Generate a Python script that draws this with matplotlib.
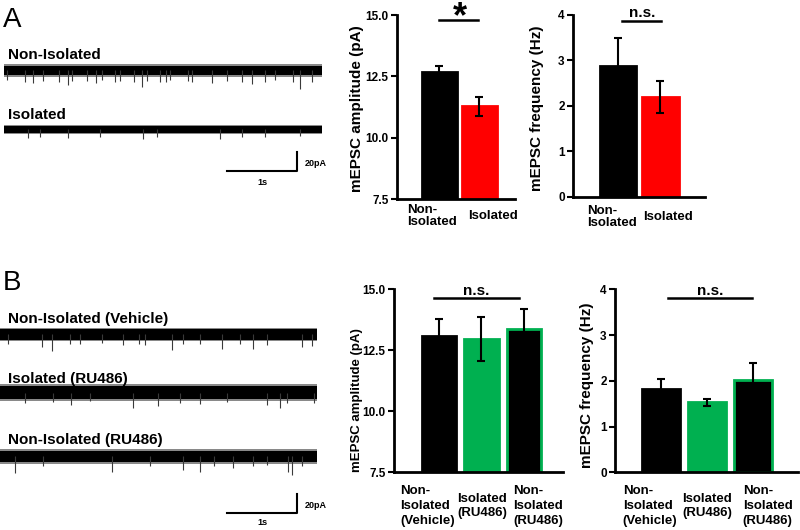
import matplotlib
matplotlib.use("Agg")
import matplotlib.pyplot as plt
import matplotlib.transforms as mtransforms
import numpy as np

plt.rcParams['font.family'] = ['Liberation Sans', 'DejaVu Sans']

# ---------------- data ----------------
# Panel A bar charts
a_cats = ["Non-\nIsolated", "Isolated"]
a_amp = [12.7, 11.28]
a_amp_err = [0.24, 0.38]
a_freq = [2.88, 2.19]
a_freq_err = [0.62, 0.35]
a_colors = ["#000000", "#ff0000"]

# Panel B bar charts
b_cats = ["Non-\nIsolated\n(Vehicle)", "Isolated\n(RU486)", "Non-\nIsolated\n(RU486)"]
b_amp = [13.07, 12.98, 13.39]
b_amp_err = [0.73, 0.90, 0.81]
b_freq = [1.83, 1.53, 2.01]
b_freq_err = [0.21, 0.08, 0.39]
b_colors = ["#000000", "#00b050", "#000000"]
b_edges = ["#000000", "#00b050", "#00b050"]

amp_ticks = [7.5, 10.0, 12.5, 15.0]
amp_ticklabels = ["7.5", "10.0", "12.5", "15.0"]
freq_ticks = [0, 1, 2, 3, 4]

# Example traces: duration (s), noise band (pA), mEPSC events (time s, amplitude pA)
trace_a_names = ["Non-Isolated", "Isolated"]
trace_b_names = ["Non-Isolated (Vehicle)", "Isolated (RU486)", "Non-Isolated (RU486)"]
a_duration = 4.54
b_duration = 4.53
a_noise = [5.0, 3.6]
b_noise = [5.6, 6.6, 6.0]

a1_t = [0.04, 0.30, 0.42, 0.56, 0.78, 0.92, 0.97, 1.18, 1.32, 1.40, 1.59, 1.66, 1.85, 1.97,
        2.04, 2.23, 2.32, 2.37, 2.63, 2.68, 2.97, 3.18, 3.40, 3.54, 3.73, 3.87, 4.13, 4.23, 4.40]
a1_amp = [10, 12, 13.5, 11, 12, 15, 11, 11, 13.5, 10, 12, 11, 12, 17,
          11, 12, 12.5, 10, 11, 12, 13.5, 11, 12, 14.5, 12.5, 10, 12.5, 19, 12]
a2_t = [0.34, 0.51, 0.91, 1.37, 1.99, 2.19, 3.09, 3.40, 3.73, 4.23]
a2_amp = [9, 7.5, 8.5, 7.5, 10, 7.5, 10, 7.5, 7.5, 7]
b1_t = [0.12, 0.60, 0.74, 1.00, 1.14, 1.45, 1.76, 1.98, 2.07, 2.45, 2.62, 2.86, 3.17,
        3.43, 3.62, 3.81, 4.31, 4.45]
b1_amp = [9.5, 13, 17.5, 9.5, 10.5, 8.5, 11.5, 10.5, 11.5, 16.5, 9.5, 10.5, 15,
          10.5, 15.5, 11.5, 13, 12]
b2_t = [0.36, 0.76, 1.02, 1.29, 1.90, 2.26, 2.57, 2.86, 3.24, 3.81, 4.00, 4.10, 4.48]
b2_amp = [11.5, 9.5, 13, 8.5, 16.5, 14, 11.5, 12, 9.5, 13, 16.5, 11.5, 10.5]
b3_t = [0.21, 0.62, 1.60, 2.14, 2.62, 2.86, 3.05, 3.33, 3.62, 3.81, 4.12, 4.17, 4.31]
b3_amp = [17.5, 10.5, 16, 10.5, 14, 16, 10.5, 12.5, 10.5, 9, 16, 19.5, 10.5]

# ---------------- figure ----------------
W, H = 800, 530
fig = plt.figure(figsize=(W / 100, H / 100), dpi=100)


def rect(x0, y0, x1, y1):
    return [x0 / W, 1 - y1 / H, (x1 - x0) / W, (y1 - y0) / H]


def fx(px):
    return px / W


def fy(py):
    return 1 - py / H


def style_bar_ax(ax, ylim, ticks, ticklabels, tsize):
    ax.set_ylim(*ylim)
    for s in ["top", "right"]:
        ax.spines[s].set_visible(False)
    for s in ["left", "bottom"]:
        ax.spines[s].set_linewidth(2)
    ax.set_yticks(ticks)
    ax.set_yticklabels(ticklabels, fontsize=tsize, fontweight="bold")
    ax.tick_params(axis="y", direction="out", length=4, width=1.5, pad=2)
    ax.set_xticks([])


def draw_bars(ax, vals, errs, colors, edges, width, xlim):
    x = np.arange(len(vals))
    ax.bar(x, vals, width=width, color=colors, edgecolor=edges, linewidth=2, zorder=2)
    ax.errorbar(x, vals, yerr=errs, fmt="none", ecolor="black", elinewidth=1.5,
                capsize=3, capthick=1.5, zorder=3)
    ax.set_xlim(*xlim)


def cat_labels(ax, cats, lefts, ypx, size, ls):
    tr = mtransforms.blended_transform_factory(ax.transData, fig.transFigure)
    for c, xl in zip(cats, lefts):
        ax.text(xl, fy(ypx), c, transform=tr, ha="left", va="center", fontsize=size,
                fontweight="bold", multialignment="left", linespacing=ls, clip_on=False)


# Panel A amplitude
ax1 = fig.add_axes(rect(397, 15, 515, 199.3))
draw_bars(ax1, a_amp, a_amp_err, a_colors, a_colors, 0.875, (-1.0625, 1.89))
style_bar_ax(ax1, (7.5, 15), amp_ticks, amp_ticklabels, 8.5)
cat_labels(ax1, a_cats, [-0.81, 0.71], 216, 9.5, 1.0)
ax1.plot([0, 0.96], [14.8, 14.8], color="black", lw=1.8, clip_on=False)
ax1.text(0.5, 14.52, "*", ha="center", va="baseline", fontsize=26, fontweight="bold", clip_on=False)
fig.text(fx(357), fy(109), "mEPSC amplitude (pA)", rotation=90, ha="center", va="center",
         fontsize=11, fontweight="bold")

# Panel A frequency
ax2 = fig.add_axes(rect(573, 15, 705, 196.7))
draw_bars(ax2, a_freq, a_freq_err, a_colors, a_colors, 0.86, (-1.06, 2.05))
style_bar_ax(ax2, (0, 4), freq_ticks, [str(t) for t in freq_ticks], 8.5)
cat_labels(ax2, a_cats, [-0.73, 0.59], 217, 9.5, 1.0)
ax2.plot([0.1, 1.01], [3.87, 3.87], color="black", lw=1.8, clip_on=False)
ax2.text(0.56, 3.956, "n.s.", ha="center", va="baseline", fontsize=11, fontweight="bold", clip_on=False)
fig.text(fx(537), fy(108), "mEPSC frequency (Hz)", rotation=90, ha="center", va="center",
         fontsize=11, fontweight="bold")

# Panel B amplitude
ax3 = fig.add_axes(rect(394, 289.3, 563, 472.3))
draw_bars(ax3, b_amp, b_amp_err, b_colors, b_edges, 0.82, (-1.06, 2.92))
style_bar_ax(ax3, (7.5, 15), amp_ticks, amp_ticklabels, 8.5)
cat_labels(ax3, b_cats, [-0.915, 0.426, 1.743], 506, 9.5, 1.3)
ax3.plot([-0.12, 1.88], [14.63, 14.63], color="black", lw=1.8, clip_on=False)
ax3.text(0.87, 14.77, "n.s.", ha="center", va="baseline", fontsize=11, fontweight="bold", clip_on=False)
fig.text(fx(357), fy(400), "mEPSC amplitude (pA)", rotation=90, ha="center", va="center",
         fontsize=9.5, fontweight="bold")

# Panel B frequency
ax4 = fig.add_axes(rect(615, 289.3, 798, 472.3))
draw_bars(ax4, b_freq, b_freq_err, b_colors, b_edges, 0.82, (-1.0, 2.98))
style_bar_ax(ax4, (0, 4), freq_ticks, [str(t) for t in freq_ticks], 8.5)
cat_labels(ax4, b_cats, [-0.83, 0.47, 1.78], 506, 9.5, 1.3)
ax4.plot([0.15, 1.99], [3.8, 3.8], color="black", lw=1.8, clip_on=False)
ax4.text(1.07, 3.875, "n.s.", ha="center", va="baseline", fontsize=11, fontweight="bold", clip_on=False)
fig.text(fx(587), fy(385), "mEPSC frequency (Hz)", rotation=90, ha="center", va="center",
         fontsize=11, fontweight="bold")


# ---------------- traces ----------------
def draw_trace(ax, base, duration, noise, ev_t, ev_amp):
    ax.fill_between([0, duration], base - noise * 1.3, base + noise * 1.3, color="#3a3a3a",
                    alpha=0.6, lw=0)
    ax.fill_between([0, duration], base - noise, base + noise, color="black", lw=0)
    ev_t = np.asarray(ev_t)
    ev_amp = np.asarray(ev_amp)
    ax.vlines(ev_t, base - ev_amp, base, color="#3a3a3a", lw=0.8)


def scale_bar(ax, x0, y0):
    ax.plot([x0, x0 + 1, x0 + 1], [y0, y0, y0 + 20], color="black", lw=1.5)


# Panel A traces (x in s, y in pA; 70 px per s, 0.95 px per pA)
axA = fig.add_axes(rect(0, 40, 340, 190))
axA.set_xlim(-4 / 70, 336 / 70)
axA.set_ylim(0, 150 / 0.95)
axA.axis("off")
a_bases = [125.8, 63.7]
draw_trace(axA, a_bases[0], a_duration, a_noise[0], a1_t, a1_amp)
draw_trace(axA, a_bases[1], a_duration, a_noise[1], a2_t, a2_amp)
scale_bar(axA, 3.186, 20)
axA.text(4.30, 28.4, "20pA", fontsize=6.5, fontweight="bold", ha="left", va="center")
axA.text(3.686, 8.4, "1s", fontsize=6.5, fontweight="bold", ha="center", va="center")
fig.text(fx(8), fy(59), trace_a_names[0], fontsize=11, fontweight="bold", ha="left", va="baseline")
fig.text(fx(8), fy(119), trace_a_names[1], fontsize=11, fontweight="bold", ha="left", va="baseline")

# Panel B traces
axB = fig.add_axes(rect(0, 300, 340, 530))
axB.set_xlim(0, 340 / 70)
axB.set_ylim(0, 230 / 0.95)
axB.axis("off")
b_bases = [205.8, 144.7, 77.4]
for base, nz, tt, aa in zip(b_bases, b_noise, [b1_t, b2_t, b3_t], [b1_amp, b2_amp, b3_amp]):
    draw_trace(axB, base, b_duration, nz, tt, aa)
scale_bar(axB, 3.243, 18.2)
axB.text(4.357, 26.3, "20pA", fontsize=6.5, fontweight="bold", ha="left", va="center")
axB.text(3.743, 7.4, "1s", fontsize=6.5, fontweight="bold", ha="center", va="center")
for name, by in zip(trace_b_names, [322.7, 382.7, 444]):
    fig.text(fx(8), fy(by), name, fontsize=11, fontweight="bold", ha="left", va="baseline")

# Panel letters
fig.text(fx(3), fy(27), "A", fontsize=20, ha="left", va="baseline")
fig.text(fx(3), fy(290), "B", fontsize=20, ha="left", va="baseline")

fig.savefig("out.png", dpi=100)
